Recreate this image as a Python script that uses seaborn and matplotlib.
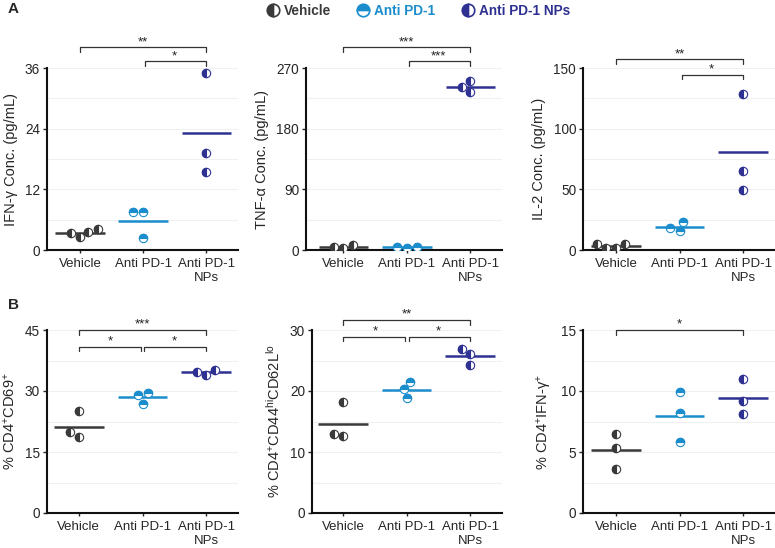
import numpy as np
import pandas as pd
import matplotlib

matplotlib.use('Agg')

import matplotlib.pyplot as plt
import matplotlib.transforms as mtransforms
from matplotlib.markers import MarkerStyle
from matplotlib.lines import Line2D
import seaborn as sns

sns.set_theme(style='ticks')
plt.rcParams['font.family'] = ['Liberation Sans', 'DejaVu Sans']
plt.rcParams['mathtext.default'] = 'regular'

groups = ['Vehicle', 'Anti PD-1', 'Anti PD-1 NPs']
tick_labels = ['Vehicle', 'Anti PD-1', 'Anti PD-1\nNPs']
colors = ['#3a3a3a', '#1b8dcc', '#2e3192']
fills = ['left', 'top', 'left']

# panel A: cytokines (pg/mL)
ifng_vehicle = [3.5, 2.5, 3.3, 4.1]
ifng_anti = [7.5, 7.5, 2.4]
ifng_nps = [35.0, 19.1, 15.5]

tnfa_vehicle = [7.4, 2.5, 4.9]
tnfa_anti = [4.9, 3.5, 3.9]
tnfa_nps = [250.2, 234.0, 241.9]

il2_vehicle = [4.7, 1.4, 1.6, 4.9]
il2_anti = [23.3, 15.9, 18.1]
il2_nps = [128.9, 65.3, 49.1]

# panel B: % of CD4 cells
cd69_vehicle = [25.0, 18.7, 19.8]
cd69_anti = [29.6, 26.8, 28.9]
cd69_nps = [35.1, 34.0, 34.7]

cd44_vehicle = [18.2, 12.6, 13.0]
cd44_anti = [21.5, 18.8, 20.3]
cd44_nps = [26.9, 24.2, 26.0]

ifnpos_vehicle = [6.5, 5.3, 3.6]
ifnpos_anti = [9.9, 8.2, 5.8]
ifnpos_nps = [11.0, 9.2, 8.1]

panels = [
    dict(vals=[ifng_vehicle, ifng_anti, ifng_nps], ylabel='IFN-γ Conc. (pg/mL)',
         ymax=36, step=12, box=(47, 238, 68, 250), xl=-0.52,
         sig=[(0, 2, 1.115, '**'), (1, 2, 1.038, '*')]),
    dict(vals=[tnfa_vehicle, tnfa_anti, tnfa_nps], ylabel='TNF-α Conc. (pg/mL)',
         ymax=270, step=90, box=(306, 502, 68, 250), xl=-0.59,
         sig=[(0, 2, 1.115, '***'), (1, 2, 1.038, '***')]),
    dict(vals=[il2_vehicle, il2_anti, il2_nps], ylabel='IL-2 Conc. (pg/mL)',
         ymax=150, step=50, box=(583, 775, 68, 250), xl=-0.52,
         sig=[(0, 2, 1.048, '**'), (1, 2, 0.962, '*')]),
    dict(vals=[cd69_vehicle, cd69_anti, cd69_nps],
         ylabel=r'% CD4$^{+}$CD69$^{+}$',
         ymax=45, step=15, box=(47, 238, 330, 513), xl=-0.5,
         sig=[(0, 2, 1.0, '***'), (0, 1, 0.909, '*'), (1, 2, 0.909, '*')]),
    dict(vals=[cd44_vehicle, cd44_anti, cd44_nps],
         ylabel=r'% CD4$^{+}$CD44$^{hi}$CD62L$^{lo}$',
         ymax=30, step=10, box=(312, 502, 330, 513), xl=-0.49,
         sig=[(0, 2, 1.055, '**'), (0, 1, 0.963, '*'), (1, 2, 0.963, '*')]),
    dict(vals=[ifnpos_vehicle, ifnpos_anti, ifnpos_nps],
         ylabel=r'% CD4$^{+}$IFN-γ$^{+}$',
         ymax=15, step=5, box=(583, 775, 330, 513), xl=-0.52,
         sig=[(0, 2, 1.0, '*')]),
]

W, H = 775, 548
fig = plt.figure(figsize=(W / 100, H / 100), dpi=100)


def draw_panel(p):
    x0, x1, top, bottom = p['box']
    ax = fig.add_axes([x0 / W, 1 - bottom / H, (x1 - x0) / W, (bottom - top) / H])
    df = pd.DataFrame({'group': np.repeat(groups, [len(v) for v in p['vals']]),
                       'value': np.concatenate(p['vals'])})
    for g, col, fs in zip(groups, colors, fills):
        sub = df[df['group'] == g]
        # white ring underneath, half-filled marker on top (same swarm layout)
        sns.swarmplot(data=sub, x='group', y='value', order=groups, ax=ax,
                      color=col, facecolor='white', edgecolor=col,
                      linewidth=0.8, size=6, zorder=3)
        sns.swarmplot(data=sub, x='group', y='value', order=groups, ax=ax,
                      color=col, edgecolor=col, linewidth=0.8, size=6,
                      marker=MarkerStyle('o', fillstyle=fs), zorder=4)
    means = df.groupby('group', sort=False)['value'].mean()
    for i, (g, col) in enumerate(zip(groups, colors)):
        ax.hlines(means[g], i - 0.39, i + 0.39, color=col, lw=1.8, zorder=2)

    ax.set_ylim(0, p['ymax'])
    ax.set_xlim(p['xl'], 2.5)
    ax.set_yticks(np.arange(0, p['ymax'] + 1e-9, p['step']))
    ax.set_yticks(np.arange(p['step'] / 2, p['ymax'], p['step']), minor=True)
    ax.grid(axis='y', which='both', color='#f0f0f0', lw=0.8)
    ax.set_axisbelow(True)
    ax.set_xticks(range(3))
    ax.set_xticklabels(tick_labels, fontsize=9.5, linespacing=1.15)
    ax.tick_params(axis='y', labelsize=9.8, length=3, width=1, pad=2)
    ax.tick_params(axis='x', length=2, width=1, pad=4)
    ax.tick_params(which='minor', length=0)
    ax.set_xlabel('')
    ax.set_ylabel(p['ylabel'], fontsize=10.5, labelpad=5)
    sns.despine(ax=ax)
    for s in ['left', 'bottom']:
        ax.spines[s].set_linewidth(1.5)
        ax.spines[s].set_color('#111111')

    trans = mtransforms.blended_transform_factory(ax.transData, ax.transAxes)
    leg = 0.025
    for a, b, y, lab in p['sig']:
        xa = a + (0.03 if a == 1 else 0)
        xb = b - (0.03 if b == 1 else 0)
        ax.plot([xa, xa, xb, xb], [y - leg, y, y, y - leg], transform=trans,
                color='#333333', lw=0.9, clip_on=False)
        ax.annotate(lab, xy=((a + b) / 2, y), xycoords=trans, xytext=(0, 1.5),
                    textcoords='offset points', ha='center', va='baseline',
                    fontsize=9.5, color='#222222', annotation_clip=False)
    return ax


for p in panels:
    draw_panel(p)

fig.text(8 / W, 1 - 9 / H, 'A', fontsize=11, fontweight='bold', va='center')
fig.text(8 / W, 1 - 305 / H, 'B', fontsize=11, fontweight='bold', va='center')

handles = [Line2D([], [], marker='o', linestyle='none', markersize=9,
                  fillstyle=fs, markerfacecolor=col, markerfacecoloralt='white',
                  markeredgecolor=col, markeredgewidth=1.2)
           for col, fs in zip(colors, fills)]
lg = fig.legend(handles, groups, loc='center', bbox_to_anchor=(418 / W, 1 - 11 / H),
                ncol=3, frameon=False, handlelength=1.0, handletextpad=0.3,
                columnspacing=1.9, prop={'weight': 'bold', 'size': 9.8})
for t, col in zip(lg.get_texts(), colors):
    t.set_color(col)

fig.savefig('out.png', dpi=100)
